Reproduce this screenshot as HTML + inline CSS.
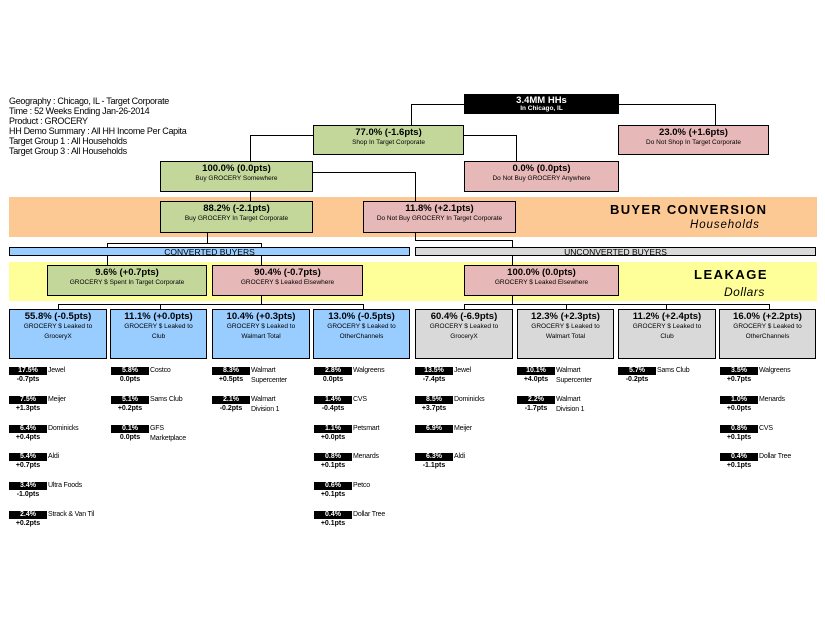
<!DOCTYPE html>
<html><head><meta charset="utf-8"><style>
body{margin:0;width:825px;height:638px;background:#fff;position:relative;overflow:hidden;font-family:"Liberation Sans",Arial,sans-serif;color:#000}
div{position:absolute;box-sizing:border-box}
.b{border:1px solid #000;text-align:center;line-height:1}
.g{background:#c4d79b}.r{background:#e6b8b7}.bl{background:#99ccff}.gy{background:#d9d9d9}
.t{font-size:9.5px;font-weight:bold;display:block;margin-top:2px}
.s{font-size:6.5px;display:block;margin-top:2px}
.h{background:#000}.v{background:#000}
.lb{background:#000;color:#fff;font-size:7px;font-weight:bold;width:38px;height:8px;line-height:8px;text-align:center}
.nm{font-size:7px;line-height:10px;letter-spacing:-0.2px}
.pt{font-size:7px;font-weight:bold;width:38px;text-align:center;line-height:8px}
.info{font-size:9px;line-height:10px;left:9px;letter-spacing:-0.3px}
</style></head><body>
<div class="info" style="top:96px">Geography : Chicago, IL - Target Corporate<br>Time : 52 Weeks Ending Jan-26-2014<br>Product : GROCERY<br>HH Demo Summary : All HH Income Per Capita<br>Target Group 1 : All Households<br>Target Group 3 : All Households</div>

<div style="left:9px;top:197px;width:808px;height:40px;background:#fcc994"></div>
<div style="left:9px;top:262px;width:808px;height:39px;background:#ffff99"></div>
<div style="left:610px;top:202px;font-size:13px;font-weight:bold;letter-spacing:1.3px">BUYER CONVERSION</div>
<div style="left:690px;top:219px;font-size:11.5px;font-style:italic;letter-spacing:0.9px">Households</div>
<div style="left:694px;top:267px;font-size:13px;font-weight:bold;letter-spacing:1.5px">LEAKAGE</div>
<div style="left:724px;top:285px;font-size:12px;font-style:italic;letter-spacing:0.5px">Dollars</div>

<!-- connectors -->
<div class="h" style="left:411px;top:104px;width:54px;height:1px"></div>
<div class="v" style="left:411px;top:104px;width:1px;height:21px"></div>
<div class="h" style="left:618px;top:104px;width:98px;height:1px"></div>
<div class="v" style="left:715px;top:104px;width:1px;height:21px"></div>
<div class="h" style="left:250px;top:135px;width:64px;height:1px"></div>
<div class="v" style="left:250px;top:135px;width:1px;height:26px"></div>
<div class="h" style="left:463px;top:135px;width:54px;height:1px"></div>
<div class="v" style="left:516px;top:135px;width:1px;height:26px"></div>
<div class="h" style="left:312px;top:172px;width:104px;height:1px"></div>
<div class="v" style="left:415px;top:172px;width:1px;height:29px"></div>
<div class="v" style="left:250px;top:192px;width:1px;height:9px"></div>
<div class="v" style="left:207px;top:233px;width:1px;height:10px"></div>
<div class="h" style="left:107px;top:243px;width:155px;height:1px"></div>
<div class="v" style="left:107px;top:243px;width:1px;height:4px"></div>
<div class="v" style="left:261px;top:243px;width:1px;height:4px"></div>
<div class="v" style="left:415px;top:233px;width:1px;height:8px"></div>
<div class="h" style="left:415px;top:240px;width:98px;height:1px"></div>
<div class="v" style="left:512px;top:240px;width:1px;height:7px"></div>
<div class="v" style="left:107px;top:256px;width:1px;height:9px"></div>
<div class="v" style="left:261px;top:256px;width:1px;height:9px"></div>
<div class="v" style="left:512px;top:256px;width:1px;height:9px"></div>
<div class="v" style="left:261px;top:296px;width:1px;height:8px"></div>
<div class="h" style="left:58px;top:304px;width:306px;height:1px"></div>
<div class="v" style="left:58px;top:304px;width:1px;height:5px"></div>
<div class="v" style="left:160px;top:304px;width:1px;height:5px"></div>
<div class="v" style="left:363px;top:304px;width:1px;height:5px"></div>
<div class="v" style="left:512px;top:296px;width:1px;height:8px"></div>
<div class="h" style="left:464px;top:304px;width:306px;height:1px"></div>
<div class="v" style="left:464px;top:304px;width:1px;height:5px"></div>
<div class="v" style="left:566px;top:304px;width:1px;height:5px"></div>
<div class="v" style="left:666px;top:304px;width:1px;height:5px"></div>
<div class="v" style="left:769px;top:304px;width:1px;height:5px"></div>

<!-- boxes -->
<div class="b" style="left:464px;top:94px;width:155px;height:20px;background:#000;color:#fff"><span class="t" style="margin-top:1px">3.4MM HHs</span><span class="s" style="margin-top:0;font-weight:bold">In Chicago, IL</span></div>
<div class="b g" style="left:313px;top:125px;width:151px;height:30px"><span class="t">77.0% (-1.6pts)</span><span class="s">Shop In Target Corporate</span></div>
<div class="b r" style="left:618px;top:125px;width:151px;height:30px"><span class="t">23.0% (+1.6pts)</span><span class="s">Do Not Shop In Target Corporate</span></div>
<div class="b g" style="left:160px;top:161px;width:153px;height:31px"><span class="t">100.0% (0.0pts)</span><span class="s">Buy GROCERY Somewhere</span></div>
<div class="b r" style="left:464px;top:161px;width:155px;height:31px"><span class="t">0.0% (0.0pts)</span><span class="s">Do Not Buy GROCERY Anywhere</span></div>
<div class="b g" style="left:160px;top:201px;width:153px;height:32px"><span class="t">88.2% (-2.1pts)</span><span class="s">Buy GROCERY In Target Corporate</span></div>
<div class="b r" style="left:363px;top:201px;width:153px;height:32px"><span class="t">11.8% (+2.1pts)</span><span class="s">Do Not Buy GROCERY In Target Corporate</span></div>
<div class="b bl" style="left:9px;top:247px;width:401px;height:9px;font-size:8.5px;line-height:8px;overflow:hidden">CONVERTED BUYERS</div>
<div class="b gy" style="left:415px;top:247px;width:401px;height:9px;font-size:8.5px;line-height:8px;overflow:hidden">UNCONVERTED BUYERS</div>
<div class="b g" style="left:47px;top:265px;width:160px;height:31px"><span class="t">9.6% (+0.7pts)</span><span class="s">GROCERY $ Spent In Target Corporate</span></div>
<div class="b r" style="left:212px;top:265px;width:151px;height:31px"><span class="t">90.4% (-0.7pts)</span><span class="s">GROCERY $ Leaked Elsewhere</span></div>
<div class="b r" style="left:464px;top:265px;width:155px;height:31px"><span class="t">100.0% (0.0pts)</span><span class="s">GROCERY $ Leaked Elsewhere</span></div>

<div class="b bl" style="left:9px;top:309px;width:98px;height:50px"><span class="t">55.8% (-0.5pts)</span><span class="s" style="line-height:10px;margin-top:0">GROCERY $ Leaked to<br>GroceryX</span></div>
<div class="b bl" style="left:110px;top:309px;width:97px;height:50px"><span class="t">11.1% (+0.0pts)</span><span class="s" style="line-height:10px;margin-top:0">GROCERY $ Leaked to<br>Club</span></div>
<div class="b bl" style="left:212px;top:309px;width:98px;height:50px"><span class="t">10.4% (+0.3pts)</span><span class="s" style="line-height:10px;margin-top:0">GROCERY $ Leaked to<br>Walmart Total</span></div>
<div class="b bl" style="left:313px;top:309px;width:97px;height:50px"><span class="t">13.0% (-0.5pts)</span><span class="s" style="line-height:10px;margin-top:0">GROCERY $ Leaked to<br>OtherChannels</span></div>
<div class="b gy" style="left:415px;top:309px;width:98px;height:50px"><span class="t">60.4% (-6.9pts)</span><span class="s" style="line-height:10px;margin-top:0">GROCERY $ Leaked to<br>GroceryX</span></div>
<div class="b gy" style="left:517px;top:309px;width:97px;height:50px"><span class="t">12.3% (+2.3pts)</span><span class="s" style="line-height:10px;margin-top:0">GROCERY $ Leaked to<br>Walmart Total</span></div>
<div class="b gy" style="left:618px;top:309px;width:98px;height:50px"><span class="t">11.2% (+2.4pts)</span><span class="s" style="line-height:10px;margin-top:0">GROCERY $ Leaked to<br>Club</span></div>
<div class="b gy" style="left:719px;top:309px;width:97px;height:50px"><span class="t">16.0% (+2.2pts)</span><span class="s" style="line-height:10px;margin-top:0">GROCERY $ Leaked to<br>OtherChannels</span></div>

<!-- leaves col1 x9 -->
<div class="lb" style="left:9px;top:367px">17.5%</div><div class="nm" style="left:48px;top:366px">Jewel</div><div class="pt" style="left:9px;top:376px">-0.7pts</div>
<div class="lb" style="left:9px;top:396px">7.5%</div><div class="nm" style="left:48px;top:395px">Meijer</div><div class="pt" style="left:9px;top:405px">+1.3pts</div>
<div class="lb" style="left:9px;top:425px">6.4%</div><div class="nm" style="left:48px;top:424px">Dominicks</div><div class="pt" style="left:9px;top:434px">+0.4pts</div>
<div class="lb" style="left:9px;top:453px">5.4%</div><div class="nm" style="left:48px;top:452px">Aldi</div><div class="pt" style="left:9px;top:462px">+0.7pts</div>
<div class="lb" style="left:9px;top:482px">3.4%</div><div class="nm" style="left:48px;top:481px">Ultra Foods</div><div class="pt" style="left:9px;top:491px">-1.0pts</div>
<div class="lb" style="left:9px;top:511px">2.4%</div><div class="nm" style="left:48px;top:510px">Strack &amp; Van Til</div><div class="pt" style="left:9px;top:520px">+0.2pts</div>
<!-- col2 x111 -->
<div class="lb" style="left:111px;top:367px">5.8%</div><div class="nm" style="left:150px;top:366px">Costco</div><div class="pt" style="left:111px;top:376px">0.0pts</div>
<div class="lb" style="left:111px;top:396px">5.1%</div><div class="nm" style="left:150px;top:395px">Sams Club</div><div class="pt" style="left:111px;top:405px">+0.2pts</div>
<div class="lb" style="left:111px;top:425px">0.1%</div><div class="nm" style="left:150px;top:424px">GFS<br>Marketplace</div><div class="pt" style="left:111px;top:434px">0.0pts</div>
<!-- col3 x212 -->
<div class="lb" style="left:212px;top:367px">8.3%</div><div class="nm" style="left:251px;top:366px">Walmart<br>Supercenter</div><div class="pt" style="left:212px;top:376px">+0.5pts</div>
<div class="lb" style="left:212px;top:396px">2.1%</div><div class="nm" style="left:251px;top:395px">Walmart<br>Division 1</div><div class="pt" style="left:212px;top:405px">-0.2pts</div>
<!-- col4 x314 -->
<div class="lb" style="left:314px;top:367px">2.8%</div><div class="nm" style="left:353px;top:366px">Walgreens</div><div class="pt" style="left:314px;top:376px">0.0pts</div>
<div class="lb" style="left:314px;top:396px">1.4%</div><div class="nm" style="left:353px;top:395px">CVS</div><div class="pt" style="left:314px;top:405px">-0.4pts</div>
<div class="lb" style="left:314px;top:425px">1.1%</div><div class="nm" style="left:353px;top:424px">Petsmart</div><div class="pt" style="left:314px;top:434px">+0.0pts</div>
<div class="lb" style="left:314px;top:453px">0.8%</div><div class="nm" style="left:353px;top:452px">Menards</div><div class="pt" style="left:314px;top:462px">+0.1pts</div>
<div class="lb" style="left:314px;top:482px">0.6%</div><div class="nm" style="left:353px;top:481px">Petco</div><div class="pt" style="left:314px;top:491px">+0.1pts</div>
<div class="lb" style="left:314px;top:511px">0.4%</div><div class="nm" style="left:353px;top:510px">Dollar Tree</div><div class="pt" style="left:314px;top:520px">+0.1pts</div>
<!-- col5 x415 -->
<div class="lb" style="left:415px;top:367px">13.5%</div><div class="nm" style="left:454px;top:366px">Jewel</div><div class="pt" style="left:415px;top:376px">-7.4pts</div>
<div class="lb" style="left:415px;top:396px">8.5%</div><div class="nm" style="left:454px;top:395px">Dominicks</div><div class="pt" style="left:415px;top:405px">+3.7pts</div>
<div class="lb" style="left:415px;top:425px">6.9%</div><div class="nm" style="left:454px;top:424px">Meijer</div>
<div class="lb" style="left:415px;top:453px">6.3%</div><div class="nm" style="left:454px;top:452px">Aldi</div><div class="pt" style="left:415px;top:462px">-1.1pts</div>
<!-- col6 x517 -->
<div class="lb" style="left:517px;top:367px">10.1%</div><div class="nm" style="left:556px;top:366px">Walmart<br>Supercenter</div><div class="pt" style="left:517px;top:376px">+4.0pts</div>
<div class="lb" style="left:517px;top:396px">2.2%</div><div class="nm" style="left:556px;top:395px">Walmart<br>Division 1</div><div class="pt" style="left:517px;top:405px">-1.7pts</div>
<!-- col7 x618 -->
<div class="lb" style="left:618px;top:367px">5.7%</div><div class="nm" style="left:657px;top:366px">Sams Club</div><div class="pt" style="left:618px;top:376px">-0.2pts</div>
<!-- col8 x720 -->
<div class="lb" style="left:720px;top:367px">3.5%</div><div class="nm" style="left:759px;top:366px">Walgreens</div><div class="pt" style="left:720px;top:376px">+0.7pts</div>
<div class="lb" style="left:720px;top:396px">1.0%</div><div class="nm" style="left:759px;top:395px">Menards</div><div class="pt" style="left:720px;top:405px">+0.0pts</div>
<div class="lb" style="left:720px;top:425px">0.8%</div><div class="nm" style="left:759px;top:424px">CVS</div><div class="pt" style="left:720px;top:434px">+0.1pts</div>
<div class="lb" style="left:720px;top:453px">0.4%</div><div class="nm" style="left:759px;top:452px">Dollar Tree</div><div class="pt" style="left:720px;top:462px">+0.1pts</div>
</body></html>
